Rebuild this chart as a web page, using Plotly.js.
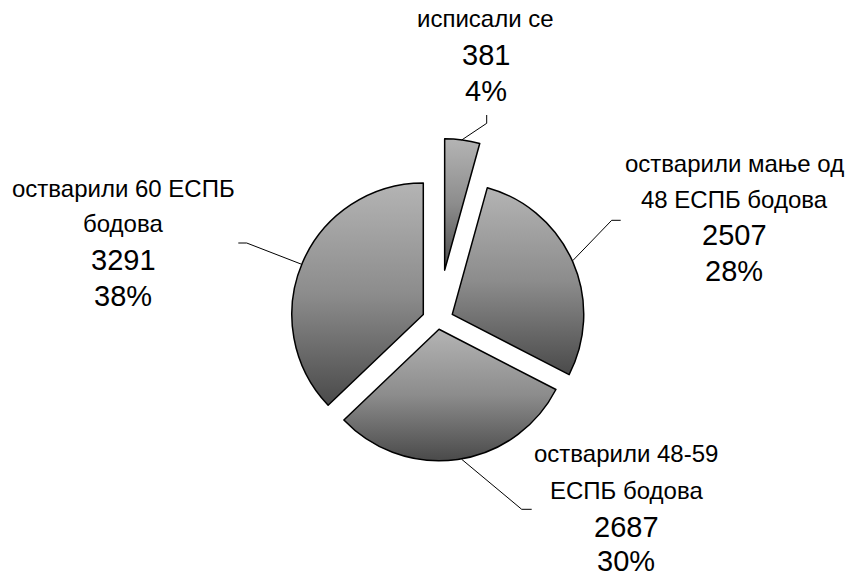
<!DOCTYPE html>
<html>
<head>
<meta charset="utf-8">
<script src="https://cdn.plot.ly/plotly-3.0.1.min.js"></script>
<style>
html,body{margin:0;padding:0;background:#fff;}
#chart{width:848px;height:577px;}
</style>
</head>
<body>
<div id="chart"></div>
<script>
// ---- data ----
var categories = ["исписали се", "остварили мање од 48 ЕСПБ бодова", "остварили 48-59 ЕСПБ бодова", "остварили 60 ЕСПБ бодова"];
var categoryLines = [["исписали се"], ["остварили мање од", "48 ЕСПБ бодова"], ["остварили 48-59", "ЕСПБ бодова"], ["остварили 60 ЕСПБ", "бодова"]];
var values = [381, 2507, 2687, 3291];
var pctLabels = ["4%", "28%", "30%", "38%"];

// ---- layout helpers (pixel -> paper) ----
var W = 848, H = 577;
function px(x){ return x / W; }
function py(y){ return 1 - y / H; }

var trace = {
  type: "pie",
  labels: categories,
  values: values,
  sort: false,
  direction: "clockwise",
  rotation: 0,
  pull: [0.388, 0.12, 0.066, 0.12],
  textinfo: "none",
  hoverinfo: "none",
  showlegend: false,
  marker: { colors: ["#808080", "#808080", "#808080", "#808080"], line: { color: "#000", width: 1.5 } },
  domain: { x: [px(255.3), px(620.3)], y: [py(503.2), py(138.2)] }
};

// label block positions (center x, baselines) per slice
var labelPos = [
  { x: 486, lines: [26.7], nums: [65, 101.7] },
  { x: 734, lines: [172.3, 208.3], nums: [245, 281.7] },
  { x: 626, lines: [462, 499.5], nums: [537.5, 571] },
  { x: 123, lines: [196.7, 231.7], nums: [270, 306] }
];
var labelFont = 24, numFont = 29;
var annotations = [];
function addText(txt, cx, baseline, size){
  annotations.push({
    text: txt, xref: "paper", yref: "paper",
    x: px(cx), y: py(baseline - 0.36 * size),
    xanchor: "center", yanchor: "middle", showarrow: false,
    font: { family: "Liberation Sans, Arial, sans-serif", size: size, color: "#000" }
  });
}
for (var i = 0; i < categories.length; i++) {
  var p = labelPos[i];
  for (var k = 0; k < categoryLines[i].length; k++) addText(categoryLines[i][k], p.x, p.lines[k], labelFont);
  addText(String(values[i]), p.x, p.nums[0], numFont);
  addText(pctLabels[i], p.x, p.nums[1], numFont);
}

// leader lines
var leaders = [
  [[461.7,140],[486.7,123.3],[486.7,115]],
  [[572.7,260.7],[611.7,220.3],[620.7,220.3]],
  [[461.7,459.3],[521.7,509.3],[531.7,509.3]],
  [[301.7,264.3],[246.7,243],[238.3,243]]
];
var shapes = leaders.map(function(pts){
  var d = pts.map(function(q, j){ return (j ? "L" : "M") + px(q[0]) + "," + py(q[1]); }).join(" ");
  return { type: "path", xref: "paper", yref: "paper", path: d, line: { color: "#000", width: 1 } };
});

var layout = {
  width: W, height: H,
  margin: { l: 0, r: 0, t: 0, b: 0 },
  paper_bgcolor: "#fff", plot_bgcolor: "#fff",
  annotations: annotations,
  shapes: shapes,
  font: { family: "Liberation Sans, Arial, sans-serif" }
};

Plotly.newPlot("chart", [trace], layout, { displayModeBar: false, staticPlot: true }).then(function(gd){
  var svg = gd.querySelector("svg.main-svg");
  var ns = "http://www.w3.org/2000/svg";
  var defs = svg.querySelector("defs") || svg.insertBefore(document.createElementNS(ns, "defs"), svg.firstChild);
  var g = document.createElementNS(ns, "linearGradient");
  g.setAttribute("id", "pieGrad");
  g.setAttribute("x1", "0"); g.setAttribute("y1", "0");
  g.setAttribute("x2", "0"); g.setAttribute("y2", "1");
  [["0", "#b4b4b4"], ["0.5", "#8c8c8c"], ["1", "#4a4a4a"]].forEach(function(s){
    var st = document.createElementNS(ns, "stop");
    st.setAttribute("offset", s[0]); st.setAttribute("stop-color", s[1]);
    g.appendChild(st);
  });
  defs.appendChild(g);
  gd.querySelectorAll("g.slice path.surface").forEach(function(p){
    p.style.fill = "url(#pieGrad)";
  });
});
</script>
</body>
</html>
